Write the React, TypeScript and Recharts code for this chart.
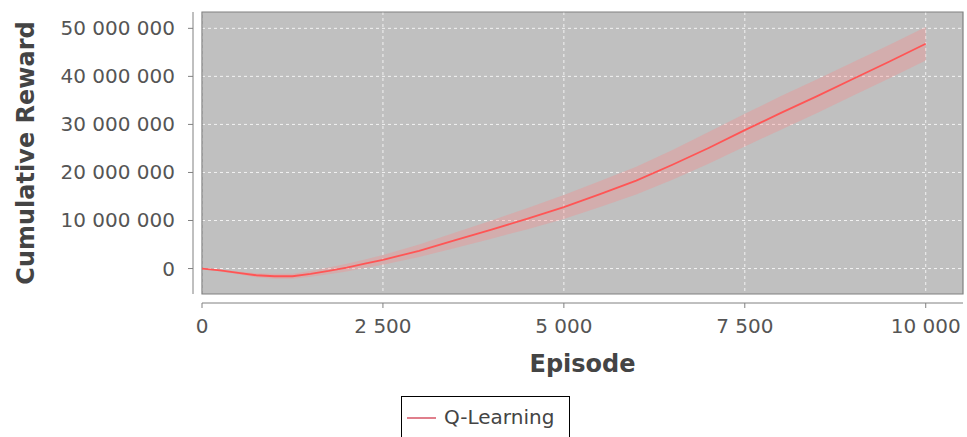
import React from 'react';
import {
    ComposedChart, Line, Area, XAxis, YAxis, CartesianGrid,
    ReferenceLine, ReferenceArea, Legend,
} from 'recharts';

// episodes sampled every 250 / 500
const episodes = [0, 250, 500, 750, 1000, 1250, 1500, 1750, 2000, 2250, 2500, 3000, 3500, 4000, 4500, 5000, 5500, 6000, 6500, 7000, 7500, 8000, 8500, 9000, 9500, 10000];
// mean cumulative reward, millions
const meanReward = [0, -0.4, -0.9, -1.4, -1.6, -1.6, -1.1, -0.5, 0.2, 1.0, 1.8, 3.7, 5.9, 8.1, 10.4, 12.8, 15.5, 18.3, 21.6, 25.1, 28.8, 32.4, 35.9, 39.5, 43.1, 46.8];
// half width of the shaded band, millions
const bandSpread = [0, 0.2, 0.3, 0.4, 0.5, 0.5, 0.6, 0.7, 0.8, 0.9, 1.0, 1.3, 1.6, 1.9, 2.2, 2.5, 2.7, 2.9, 3.1, 3.3, 3.4, 3.5, 3.5, 3.5, 3.5, 3.5];

const xTicks = [0, 2500, 5000, 7500, 10000];
const yTicks = [0, 10000000, 20000000, 30000000, 40000000, 50000000];

const X_DOMAIN: [number, number] = [0, 10515];
const Y_DOMAIN: [number, number] = [-5300000, 53400000];

const data = episodes.map((ep, i) => ({
    episode: ep,
    mean: meanReward[i] * 1e6,
    band: [(meanReward[i] - bandSpread[i]) * 1e6, (meanReward[i] + bandSpread[i]) * 1e6],
}));

const fmt = (v: number) => String(Math.round(v)).replace(/\B(?=(\d{3})+(?!\d))/g, ' ');

const FONT = '"DejaVu Sans", Verdana, sans-serif';
const AXIS_GAP = 9;

const YTick = (props: any) => {
    const { x, y, payload } = props;
    return (
        <g>
            <line x1={x - AXIS_GAP - 5} x2={x - AXIS_GAP} y1={y} y2={y} stroke="#808080" />
            <text x={x - 27} y={y} dy={7} textAnchor="end" fontSize={20} fill="#555" fontFamily={FONT}>
                {fmt(payload.value)}
            </text>
        </g>
    );
};

const XTick = (props: any) => {
    const { x, y, payload } = props;
    return (
        <g>
            <line x1={x} x2={x} y1={y + AXIS_GAP} y2={y + AXIS_GAP + 5} stroke="#808080" />
            <text x={x} y={y + 39} textAnchor="middle" fontSize={20} fill="#555" fontFamily={FONT}>
                {fmt(payload.value)}
            </text>
        </g>
    );
};

const LegendBox = () => (
    <div style={{ height: 41, display: 'flex', justifyContent: 'center', paddingLeft: 8 }}>
        <div style={{
            border: '1px solid #000', width: 169, height: 50, boxSizing: 'border-box',
            display: 'flex', alignItems: 'flex-start', paddingTop: 8, paddingLeft: 5, background: '#fff',
        }}>
            <div style={{ width: 29, height: 2, background: '#e07f8c', marginTop: 12, marginRight: 8 }} />
            <span style={{ fontFamily: FONT, fontSize: 20, color: '#444', lineHeight: '24px' }}>Q-Learning</span>
        </div>
    </div>
);

export default function App() {
    return (
        <div style={{ position: 'absolute', left: 0, top: 0, background: '#fff' }}>
            <ComposedChart width={967} height={437} data={data} margin={{ top: 12, right: 4, bottom: 0, left: 0 }}>
                <CartesianGrid
                    fill="#c0c0c0"
                    fillOpacity={1}
                    stroke="#f2f2f2"
                    strokeDasharray="3 3"
                    horizontalValues={yTicks}
                    verticalValues={xTicks}
                />
                <XAxis
                    type="number"
                    dataKey="episode"
                    domain={X_DOMAIN}
                    ticks={xTicks}
                    allowDataOverflow
                    axisLine={false}
                    tickLine={false}
                    tickSize={0}
                    tickMargin={0}
                    height={102}
                    tick={<XTick />}
                    label={(p: any) => {
                        const vb = p.viewBox;
                        return (
                            <text x={vb.x + vb.width / 2} y={vb.y + 78} textAnchor="middle" fontSize={24}
                                fontWeight="bold" fill="#444" fontFamily={FONT}>Episode</text>
                        );
                    }}
                />
                <YAxis
                    type="number"
                    domain={Y_DOMAIN}
                    ticks={yTicks}
                    allowDataOverflow
                    axisLine={false}
                    tickLine={false}
                    tickSize={0}
                    tickMargin={0}
                    width={202}
                    tick={<YTick />}
                    label={(p: any) => {
                        const vb = p.viewBox;
                        const cx = vb.x + 34;
                        const cy = vb.y + vb.height / 2;
                        return (
                            <text x={cx} y={cy} transform={`rotate(-90, ${cx}, ${cy})`} textAnchor="middle"
                                fontSize={24} fontWeight="bold" fill="#444" fontFamily={FONT}>Cumulative Reward</text>
                        );
                    }}
                />
                <Area
                    dataKey="band"
                    type="linear"
                    stroke="none"
                    fill="#ff8080"
                    fillOpacity={0.3}
                    isAnimationActive={false}
                    legendType="none"
                />
                <Line
                    dataKey="mean"
                    type="linear"
                    stroke="#ff5555"
                    strokeWidth={1.8}
                    dot={false}
                    isAnimationActive={false}
                    name="Q-Learning"
                />
                <ReferenceArea x1={X_DOMAIN[0]} x2={X_DOMAIN[1]} y1={Y_DOMAIN[0]} y2={Y_DOMAIN[1]}
                    fill="none" stroke="#808080" strokeWidth={1.2} />
                <ReferenceLine x={X_DOMAIN[0]} stroke="#808080"
                    shape={(p: any) => <line x1={p.x1 - AXIS_GAP} x2={p.x2 - AXIS_GAP} y1={p.y1} y2={p.y2} stroke="#808080" />} />
                <ReferenceLine y={Y_DOMAIN[0]} stroke="#808080"
                    shape={(p: any) => <line x1={p.x1} x2={p.x2} y1={p.y1 + AXIS_GAP} y2={p.y2 + AXIS_GAP} stroke="#808080" />} />
                <Legend verticalAlign="bottom" content={<LegendBox />} />
            </ComposedChart>
        </div>
    );
}
